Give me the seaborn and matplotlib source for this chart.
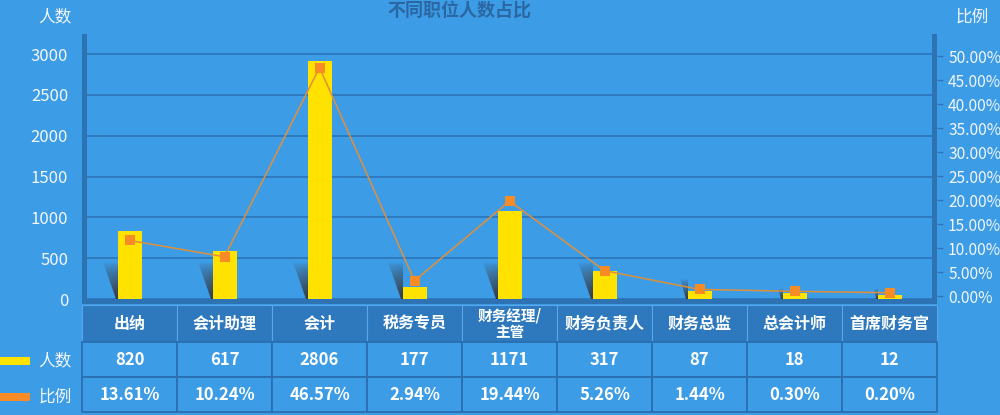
import numpy as np
import pandas as pd
import matplotlib
matplotlib.use("Agg")
import matplotlib.pyplot as plt
from matplotlib.patches import Rectangle, Polygon
import seaborn as sns

# ---------------- data ----------------
categories = ['出纳', '会计助理', '会计', '税务专员', '财务经理/\n主管',
              '财务负责人', '财务总监', '总会计师', '首席财务官']
bar_heights = [832, 588, 2913, 147, 1077, 343, 98, 70, 49]          # as drawn
ratio_points = [11.6, 8.2, 47.6, 3.2, 19.8, 5.3, 1.4, 1.0, 0.7]      # as drawn (%)
count_labels = ['820', '617', '2806', '177', '1171', '317', '87', '18', '12']
ratio_labels = ['13.61%', '10.24%', '46.57%', '2.94%', '19.44%', '5.26%',
                '1.44%', '0.30%', '0.20%']
left_ticks = [0, 500, 1000, 1500, 2000, 2500, 3000]
right_ticks = [0, 5, 10, 15, 20, 25, 30, 35, 40, 45, 50]

# ---------------- style ----------------
BG = '#3d9ce6'
HEADER = '#2e79bd'
GRID = '#2a70b3'
SPINE = '#2d73b4'
TITLE = '#2b67a3'
YELLOW = '#ffe200'
ORANGE = '#f78c26'
LINE = '#e0903a'
TXT = '#f2f7ff'

sns.set_theme(style='white')
plt.rcParams['font.family'] = ['Noto Sans CJK SC', 'DejaVu Sans']

W, H = 1000, 415
fig = plt.figure(figsize=(W / 100, H / 100), dpi=100, facecolor=BG)


def fx(px):
    return px / W


def fy(py):
    return 1 - py / H


ax_l, ax_r, ax_t, ax_b = 82, 937, 34, 299
ax = fig.add_axes([fx(ax_l), fy(ax_b), fx(ax_r) - fx(ax_l), fy(ax_t) - fy(ax_b)])
ax.set_facecolor('none')

df = pd.DataFrame({'职位': categories, '人数': bar_heights})
bar_w = 24 / 95
sns.barplot(data=df, x='职位', y='人数', ax=ax, color=YELLOW, saturation=1,
            width=bar_w, linewidth=0, zorder=2)

YMAX = 3245
ax.set_ylim(0, YMAX)
ax.set_xlim(-0.5, len(categories) - 0.5)
ax.set_yticks(left_ticks)
ax.set_yticklabels([str(v) for v in left_ticks], color=TXT, fontsize=12)
ax.tick_params(axis='y', length=0, pad=10)
ax.set_xticks([])
ax.set_xlabel('')
ax.set_ylabel('')
ax.set_axisbelow(True)
ax.yaxis.grid(True, color=GRID, lw=1.1)
ax.xaxis.grid(False)
for s in ax.spines.values():
    s.set_visible(False)

# shadows (decorative gradient beside each bar)
px_per_unit = (ax_b - ax_t) / YMAX
for i, h in enumerate(bar_heights):
    hs = float(np.clip(h * h / 40.0, 120, 450))
    hs_px = hs * px_per_unit
    dx = hs_px * 15 / 37 / 95
    xl = i - bar_w / 2
    verts = [(xl - dx, hs), (xl, hs), (xl, 0), (xl - 0.015, 0)]
    poly = Polygon(verts, closed=True, transform=ax.transData)
    yy, xx = np.mgrid[0:1:80j, 0:1:80j]
    img = np.zeros((80, 80, 4))
    img[..., 0] = 0.22
    img[..., 1] = 0.22
    img[..., 2] = 0.24
    img[..., 3] = np.clip(1.0 * (1 - yy) ** 0.7 * (0.7 + 0.3 * xx), 0, 1)
    im = ax.imshow(img, extent=[xl - dx, xl, 0, hs], origin='lower',
                   aspect='auto', zorder=1, interpolation='bilinear')
    im.set_clip_path(poly)
ax.set_ylim(0, YMAX)
ax.set_xlim(-0.5, len(categories) - 0.5)

# secondary axis: ratio line
ax2 = ax.twinx()
ax2.set_facecolor('none')
sns.lineplot(x=np.arange(len(categories)), y=ratio_points, ax=ax2, color=LINE,
             lw=1.1, marker='s', markersize=7.5, markerfacecolor=ORANGE,
             markeredgewidth=0, sort=False, zorder=3)
ax2.set_ylim(-0.6, 54.6)
ax2.set_yticks(right_ticks)
ax2.set_yticklabels([f'{v:.2f}%' for v in right_ticks], color=TXT, fontsize=11.2)
ax2.tick_params(axis='y', length=4, width=1, color=SPINE, pad=4)
ax2.grid(False)
ax2.set_ylabel('')
for s in ax2.spines.values():
    s.set_visible(False)
ax.set_xlim(-0.5, len(categories) - 0.5)

# thick axis bands
for (x0, y0, x1, y1) in [(82, 34, 87, 304), (932, 34, 937, 304), (82, 299, 937, 304)]:
    fig.patches.append(Rectangle((fx(x0), fy(y1)), fx(x1) - fx(x0), fy(y0) - fy(y1),
                                 transform=fig.transFigure, facecolor=SPINE,
                                 edgecolor='none', zorder=5))

# ---------------- data table ----------------
span_px = ax_r - ax_l
t_left, t_right, t_top, t_bot = 0, 937, 305, 412
bbox = [(t_left - ax_l) / span_px, (ax_b - t_bot) / (ax_b - ax_t),
        (t_right - t_left) / span_px, (t_bot - t_top) / (ax_b - ax_t)]
cell_text = [[''] + categories, [''] + count_labels, [''] + ratio_labels]
col_w = [82 / 937] + [95 / 937] * len(categories)
tbl = ax.table(cellText=cell_text, cellLoc='center', colWidths=col_w, bbox=bbox)
tbl.auto_set_font_size(False)
row_h = [37, 35, 35]
for (r, c), cell in tbl.get_celld().items():
    cell.set_height(row_h[r] / 107)
    t = cell.get_text()
    t.set_color('white')
    t.set_fontweight('bold')
    t.set_fontsize(11.5 if r == 0 else 12)
    if c == 0:
        cell.set_facecolor(BG)
        cell.set_linewidth(0)
        cell.set_edgecolor(BG)
    elif r == 0:
        cell.set_facecolor(HEADER)
        cell.set_edgecolor('#5aa6ea')
        cell.set_linewidth(0.8)
        if '\n' in t.get_text():
            t.set_fontsize(10.5)
            t.set_linespacing(1.05)
    else:
        cell.set_facecolor(BG)
        cell.set_edgecolor('#2a6fb0')
        cell.set_linewidth(1.3)

# legend swatches for table rows
fig.patches.append(Rectangle((fx(0), fy(365)), fx(30), fy(357) - fy(365),
                             transform=fig.transFigure, facecolor=YELLOW,
                             edgecolor='none', zorder=6))
fig.patches.append(Rectangle((fx(0), fy(401)), fx(30), fy(393) - fy(401),
                             transform=fig.transFigure, facecolor=ORANGE,
                             edgecolor='none', zorder=6))
fig.text(fx(55), fy(361), '人数', ha='center', va='center', fontsize=12, color=TXT)
fig.text(fx(55), fy(397), '比例', ha='center', va='center', fontsize=12, color=TXT)

# titles
fig.text(fx(459), fy(10), '不同职位人数占比', ha='center', va='center',
         fontsize=13, fontweight='bold', color=TITLE)
fig.text(fx(55), fy(17), '人数', ha='center', va='center', fontsize=12, color=TXT)
fig.text(fx(972), fy(17), '比例', ha='center', va='center', fontsize=12, color=TXT)

fig.savefig('out.png', dpi=100, facecolor=BG)
